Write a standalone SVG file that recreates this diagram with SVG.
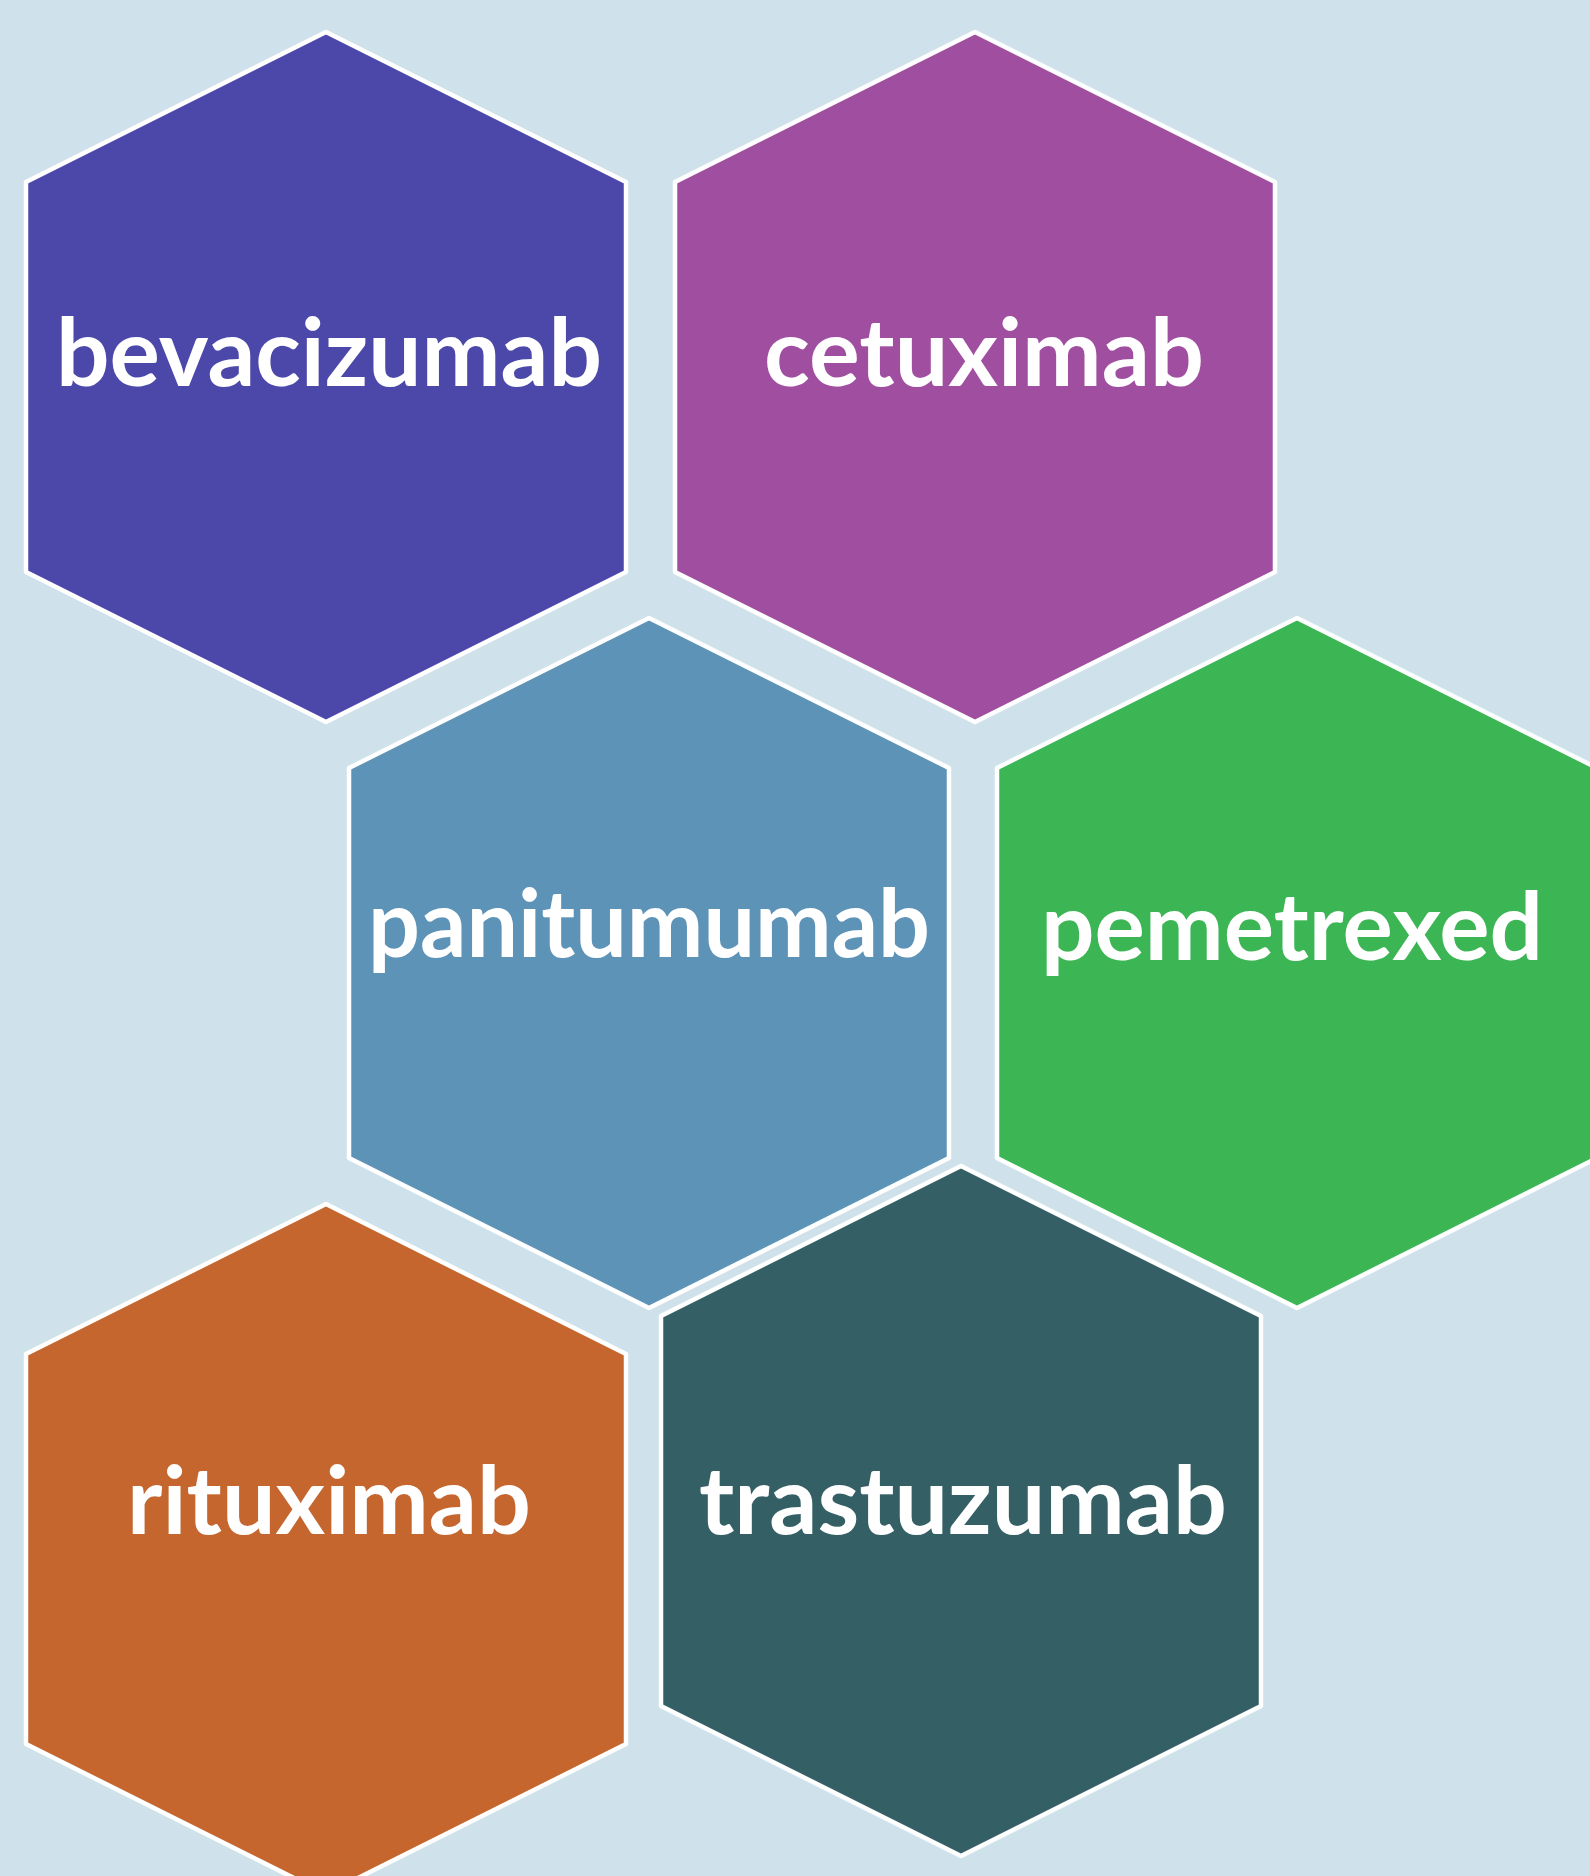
<svg xmlns="http://www.w3.org/2000/svg" width="1590" height="1876" viewBox="0 0 1590 1876">
<style>
.hex{stroke:#ffffff;stroke-width:4.5;stroke-linejoin:round}
.lbl{font-family:Lato,"Open Sans","Liberation Sans",sans-serif;font-weight:bold;font-size:94px;fill:#ffffff;text-anchor:middle}
</style>
<defs>
<polygon id="hx" points="0,0 300,150 300,540 0,690 -300,540 -300,150"/>
</defs>
<rect width="1590" height="1876" fill="#CFE1EB"/>
<g id="bevacizumab">
<use href="#hx" x="326" y="32" class="hex" fill="#4B48A9"/>
<text class="lbl" x="329" y="386" textLength="546" lengthAdjust="spacingAndGlyphs">bevacizumab</text>
</g>
<g id="cetuximab">
<use href="#hx" x="975" y="32" class="hex" fill="#A04EA0"/>
<text class="lbl" x="984" y="386" textLength="440" lengthAdjust="spacingAndGlyphs">cetuximab</text>
</g>
<g id="panitumumab">
<use href="#hx" x="649" y="618" class="hex" fill="#5D93B7"/>
<text class="lbl" x="649" y="957" textLength="562" lengthAdjust="spacingAndGlyphs">panitumumab</text>
</g>
<g id="pemetrexed">
<use href="#hx" x="1297" y="618" class="hex" fill="#3CB655"/>
<text class="lbl" x="1292" y="960" textLength="502" lengthAdjust="spacingAndGlyphs">pemetrexed</text>
</g>
<g id="rituximab">
<use href="#hx" x="326" y="1204" class="hex" fill="#C4662D"/>
<text class="lbl" x="329" y="1534" textLength="404" lengthAdjust="spacingAndGlyphs">rituximab</text>
</g>
<g id="trastuzumab">
<use href="#hx" x="961" y="1166" class="hex" fill="#345F65"/>
<text class="lbl" x="963" y="1534" textLength="528" lengthAdjust="spacingAndGlyphs">trastuzumab</text>
</g>
<g id="connectors"/>
</svg>
